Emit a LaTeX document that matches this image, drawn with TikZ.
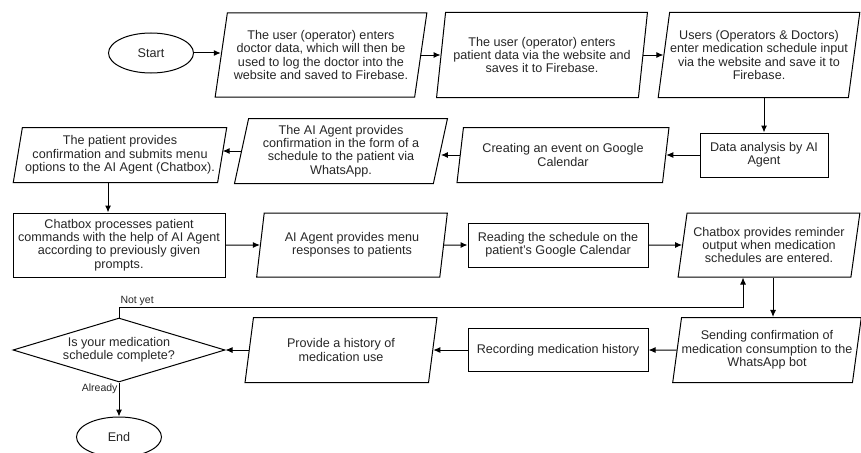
\documentclass[tikz,border=0pt]{standalone}
\usepackage{fontspec}
\setmainfont{Liberation Sans}
\usetikzlibrary{shapes.geometric}
\usetikzlibrary{positioning}
\usetikzlibrary{arrows.meta}
\tikzset{
    mynoder/.style = {rectangle, line width=1pt, draw=black, align=center, inner sep=0pt, font=\fontsize{12.6}{13.3}\selectfont, text=black!85},
    mynodep/.style = {trapezium, trapezium left angle=77, trapezium right angle=103, trapezium stretches=true, line width=1pt, draw=black, align=center, inner sep=0pt, font=\fontsize{12.6}{13.3}\selectfont, text=black!85},
    mynodee/.style = {ellipse, line width=1pt, draw=black, align=center, inner sep=0pt, minimum width=85pt, minimum height=40pt, font=\fontsize{12.6}{13.3}\selectfont, text=black!85},
    mynoded/.style = {diamond, shape aspect=3.3, line width=1pt, draw=black, align=center, inner sep=0pt, font=\fontsize{12.6}{13.3}\selectfont, text=black!85},
    edgen/.style = {-{Latex[length=7pt,width=6pt]}, line width=1pt, black},
    mylabel/.style = {font=\fontsize{10.5}{11}\selectfont, inner sep=1pt, text=black!85}
}
\begin{document}
\begin{tikzpicture}[x=1pt,y=-1pt]
\useasboundingbox (0,0) rectangle (861,452);
%
\node[mynodee] at (151,53) (start) {Start};
\node[mynodep, minimum width=212pt, minimum height=84pt] at (321,55) (usr1) {The user (operator) enters\\doctor data, which will then be\\used to log the doctor into the\\website and saved to Firebase.};
\node[mynodep, minimum width=211pt, minimum height=85pt] at (542,55) (usr2) {The user (operator) enters\\patient data via the website and\\saves it to Firebase.};
\node[mynodep, minimum width=202pt, minimum height=85pt] at (759,55) (usr3) {Users (Operators \& Doctors)\\enter medication schedule input\\via the website and save it to\\Firebase.};
%
\node[mynoder, minimum width=128pt, minimum height=44pt] at (764,155) (anl) {Data analysis by AI\\Agent};
\node[mynodep, minimum width=212pt, minimum height=55pt] at (563,155) (evt) {Creating an event on Google\\Calendar};
\node[mynodep, minimum width=213pt, minimum height=65pt] at (341,151) (conf) {The AI Agent provides\\confirmation in the form of a\\schedule to the patient via\\WhatsApp.};
\node[mynodep, minimum width=214pt, minimum height=55pt] at (120,155) (pat) {The patient provides\\confirmation and submits menu\\options to the AI Agent (Chatbox).};
%
\node[mynoder, minimum width=212pt, minimum height=64pt] at (119,245) (proc) {Chatbox processes patient\\commands with the help of AI Agent\\according to previously given\\prompts.};
\node[mynodep, minimum width=191pt, minimum height=64pt] at (352,245) (menu) {AI Agent provides menu\\responses to patients};
\node[mynoder, minimum width=180pt, minimum height=44pt] at (558,245) (read) {Reading the schedule on the\\patient's Google Calendar};
\node[mynodep, minimum width=182pt, minimum height=64pt] at (769,245) (remind) {Chatbox provides reminder\\output when medication\\schedules are entered.};
%
\node[mynoded, minimum width=212pt, minimum height=64pt] at (119,350) (dec) {Is your medication\\schedule complete?};
\node[mynodep, minimum width=192pt, minimum height=65pt] at (341,350) (hist) {Provide a history of\\medication use};
\node[mynoder, minimum width=180pt, minimum height=43pt] at (558,350) (rec) {Recording medication history};
\node[mynodep, minimum width=187pt, minimum height=65pt] at (767,350) (send) {Sending confirmation of\\medication consumption to the\\WhatsApp bot};
\node[mynodee] at (119,437) (end) {End};
%
\draw[edgen] (start.east) -- (start.east -| usr1.west);
\draw[edgen] (usr1.east) -- (usr1.east -| usr2.west);
\draw[edgen] (usr2.east) -- (usr2.east -| usr3.west);
\draw[edgen] (anl.north |- usr3.south) -- (anl.north);
\draw[edgen] (anl.west) -- (anl.west -| evt.east);
\draw[edgen] (evt.west) -- (evt.west -| conf.east);
\draw[edgen] (conf.west) -- (conf.west -| pat.east);
\draw[edgen] ([xshift=-12pt]pat.south) -- ([xshift=-12pt]pat.south |- proc.north);
\draw[edgen] (proc.east) -- (menu.west);
\draw[edgen] (menu.east) -- (read.west);
\draw[edgen] (read.east) -- (remind.west);
\draw[edgen] ([xshift=4pt]remind.south) -- ([xshift=4pt]remind.south |- send.north);
\draw[edgen] (send.west) -- (rec.east);
\draw[edgen] (rec.west) -- (hist.east);
\draw[edgen] (hist.west) -- (dec.east);
\draw[edgen] (dec.north) -- ++(0,-10) node[mylabel, anchor=south west] {Not yet} -| ([xshift=-26pt]remind.south);
\draw[edgen] (dec.south) -- node[mylabel, pos=0.17, left] {Already} (end.north);

\end{tikzpicture}
\end{document}
